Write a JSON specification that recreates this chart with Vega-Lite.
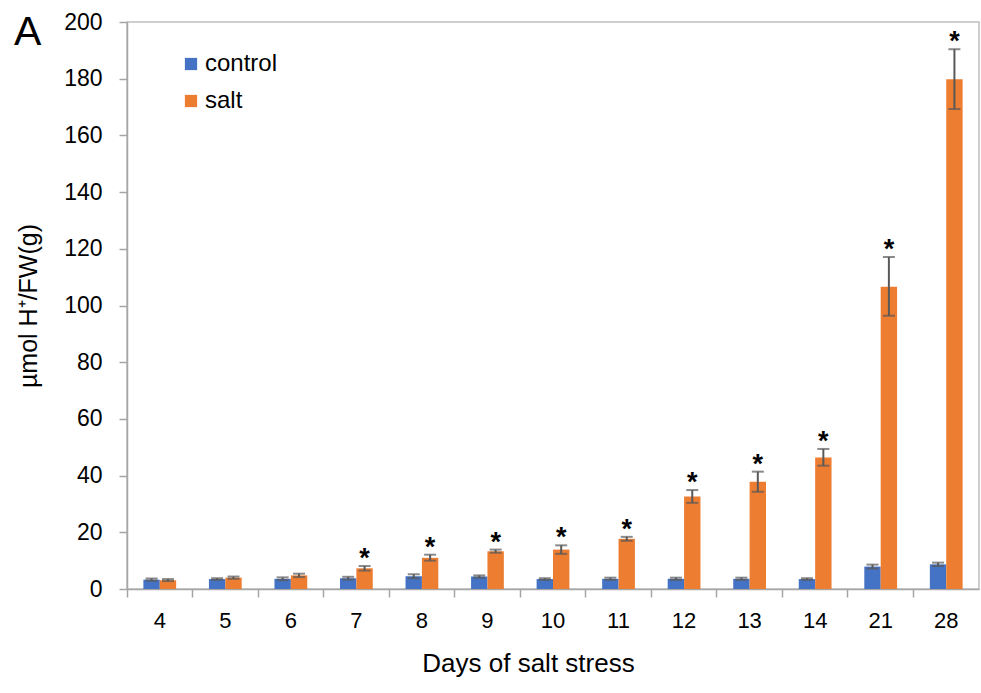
{
  "$schema": "https://vega.github.io/schema/vega-lite/v6.json",
  "width": 852,
  "height": 567,
  "autosize": {"type": "none"},
  "padding": {"left": 127, "top": 22, "right": 2, "bottom": 104},
  "background": "white",
  "config": {
    "font": "Liberation Sans",
    "view": {"stroke": "#bfbfbf", "strokeWidth": 1.5},
    "axis": {"labelFont": "Liberation Sans", "titleFont": "Liberation Sans", "labelColor": "#000", "titleColor": "#000", "titleFontWeight": "normal"}
  },
  "title": {"text": "A", "anchor": "start", "frame": "group", "dx": -113, "dy": 75, "offset": 0, "baseline": "alphabetic", "fontSize": 41, "fontWeight": "normal", "font": "Liberation Sans", "color": "#000"},
  "data": {"values": [
    {"day": "4", "group": "control", "value": 3.3, "lo": 2.9, "hi": 3.7, "sig": ""},
    {"day": "5", "group": "control", "value": 3.5, "lo": 3.2, "hi": 3.8, "sig": ""},
    {"day": "6", "group": "control", "value": 3.6, "lo": 3.1, "hi": 4.1, "sig": ""},
    {"day": "7", "group": "control", "value": 3.8, "lo": 3.3, "hi": 4.3, "sig": ""},
    {"day": "8", "group": "control", "value": 4.5, "lo": 3.8, "hi": 5.2, "sig": ""},
    {"day": "9", "group": "control", "value": 4.4, "lo": 4.0, "hi": 4.8, "sig": ""},
    {"day": "10", "group": "control", "value": 3.5, "lo": 3.2, "hi": 3.8, "sig": ""},
    {"day": "11", "group": "control", "value": 3.6, "lo": 3.2, "hi": 4.0, "sig": ""},
    {"day": "12", "group": "control", "value": 3.6, "lo": 3.2, "hi": 4.0, "sig": ""},
    {"day": "13", "group": "control", "value": 3.6, "lo": 3.2, "hi": 4.0, "sig": ""},
    {"day": "14", "group": "control", "value": 3.5, "lo": 3.2, "hi": 3.8, "sig": ""},
    {"day": "21", "group": "control", "value": 7.9, "lo": 7.2, "hi": 8.6, "sig": ""},
    {"day": "28", "group": "control", "value": 8.7, "lo": 8.1, "hi": 9.3, "sig": ""},
    {"day": "4", "group": "salt", "value": 3.1, "lo": 2.8, "hi": 3.5, "sig": ""},
    {"day": "5", "group": "salt", "value": 4.0, "lo": 3.6, "hi": 4.4, "sig": ""},
    {"day": "6", "group": "salt", "value": 4.8, "lo": 4.2, "hi": 5.4, "sig": ""},
    {"day": "7", "group": "salt", "value": 7.3, "lo": 6.5, "hi": 8.1, "sig": "*"},
    {"day": "8", "group": "salt", "value": 11.0, "lo": 10.0, "hi": 12.1, "sig": "*"},
    {"day": "9", "group": "salt", "value": 13.3, "lo": 12.8, "hi": 13.9, "sig": "*"},
    {"day": "10", "group": "salt", "value": 13.9, "lo": 12.4, "hi": 15.4, "sig": "*"},
    {"day": "11", "group": "salt", "value": 17.7, "lo": 17.0, "hi": 18.4, "sig": "*"},
    {"day": "12", "group": "salt", "value": 32.6, "lo": 30.4, "hi": 34.9, "sig": "*"},
    {"day": "13", "group": "salt", "value": 37.8, "lo": 34.3, "hi": 41.4, "sig": "*"},
    {"day": "14", "group": "salt", "value": 46.4, "lo": 43.5, "hi": 49.4, "sig": "*"},
    {"day": "21", "group": "salt", "value": 106.6, "lo": 96.4, "hi": 117.1, "sig": "*"},
    {"day": "28", "group": "salt", "value": 179.8, "lo": 169.3, "hi": 190.4, "sig": "*"}
  ]},
  "encoding": {
    "x": {
      "field": "day", "type": "ordinal",
      "sort": ["4", "5", "6", "7", "8", "9", "10", "11", "12", "13", "14", "21", "28"],
      "scale": {"paddingInner": 0, "paddingOuter": 0},
      "axis": {
        "title": "Days of salt stress", "titleFontSize": 26, "titlePadding": 19, "titleX": 401,
        "labelAngle": 0, "labelFontSize": 22, "labelPadding": 13,
        "tickSize": 8, "tickColor": "#a6a6a6", "tickWidth": 1.5,
        "domainColor": "#a6a6a6", "domainWidth": 1.5,
        "bandPosition": 0
      }
    },
    "xOffset": {"field": "group", "type": "nominal", "scale": {"paddingInner": 0, "paddingOuter": 1.52}}
  },
  "layer": [
    {
      "mark": {"type": "bar"},
      "encoding": {
        "y": {
          "field": "value", "type": "quantitative",
          "scale": {"domain": [0, 200], "nice": false},
          "axis": {
            "title": "µmol H⁺/FW(g)", "titleFontSize": 25, "titlePadding": 22,
            "values": [0, 20, 40, 60, 80, 100, 120, 140, 160, 180, 200],
            "labelFontSize": 23, "labelPadding": 17, "tickSize": 8,
            "tickColor": "#a6a6a6", "tickWidth": 1.5, "domainColor": "#a6a6a6", "domainWidth": 1.5,
            "grid": false
          }
        },
        "color": {
          "field": "group", "type": "nominal",
          "scale": {"domain": ["control", "salt"], "range": ["#4472C4", "#ED7D31"]},
          "legend": {
            "title": null, "orient": "none", "legendX": 52, "legendY": 30,
            "symbolType": "square", "symbolSize": 150, "symbolStrokeWidth": 0, "symbolOpacity": 1,
            "labelFontSize": 24, "labelFont": "Liberation Sans", "labelColor": "#000",
            "rowPadding": 13, "labelOffset": 2
          }
        }
      }
    },
    {
      "mark": {"type": "rule", "color": "#595959", "strokeWidth": 2},
      "encoding": {
        "y": {"field": "lo", "type": "quantitative"},
        "y2": {"field": "hi"}
      }
    },
    {
      "mark": {"type": "tick", "color": "#595959", "thickness": 2, "size": 12, "orient": "horizontal"},
      "encoding": {"y": {"field": "lo", "type": "quantitative"}}
    },
    {
      "mark": {"type": "tick", "color": "#595959", "thickness": 2, "size": 12, "orient": "horizontal"},
      "encoding": {"y": {"field": "hi", "type": "quantitative"}}
    },
    {
      "mark": {"type": "text", "fontSize": 27, "fontWeight": "bold", "baseline": "alphabetic", "dy": 1, "color": "#000", "font": "Liberation Sans"},
      "encoding": {
        "y": {"field": "hi", "type": "quantitative"},
        "text": {"field": "sig", "type": "nominal"}
      }
    }
  ]
}
